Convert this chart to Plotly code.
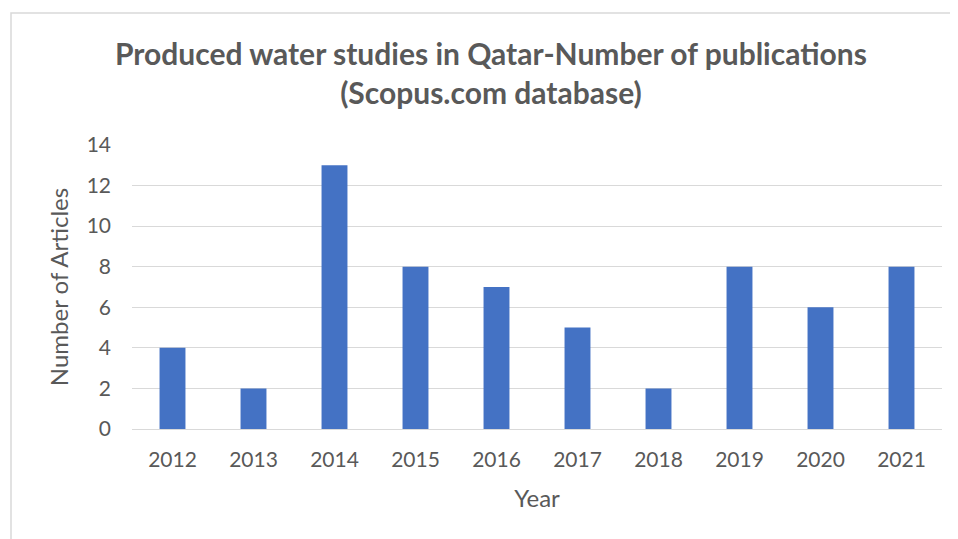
import plotly.graph_objects as go

years = ["2012", "2013", "2014", "2015", "2016", "2017", "2018", "2019", "2020", "2021"]
articles = [4, 2, 13, 8, 7, 5, 2, 8, 6, 8]
y_ticks = [0, 2, 4, 6, 8, 10, 12, 14]

OFF = 8  # page body margin
W, H = 958, 539
L, R, T, B = 132 - OFF, 16 + OFF, 145 - OFF, 110 + OFF
pw, ph = W - L - R, H - T - B

def px_x(x):
    return (x - OFF - L) / pw

def px_y(y):
    return 1 - (y - OFF - T) / ph

gray = "#595959"
font = "Lato"

fig = go.Figure(go.Bar(x=years, y=articles, marker=dict(color="#4472C4", line=dict(width=0)), width=0.32))

fig.update_layout(
    width=W, height=H,
    margin=dict(l=L, r=R, t=T, b=B),
    paper_bgcolor="white", plot_bgcolor="white",
    showlegend=False,
    font=dict(family=font, color=gray, size=21),
    xaxis=dict(showgrid=False, showline=True, linecolor="#d9d9d9", linewidth=1,
               ticks="", tickfont=dict(size=21, color=gray), ticklabelstandoff=12,
               title=dict(text="Year", font=dict(size=24, color=gray), standoff=19)),
    yaxis=dict(range=[0, 14], tickvals=y_ticks, showgrid=True, gridcolor="#d9d9d9", gridwidth=1,
               zeroline=False, showline=False, ticks="", tickfont=dict(size=21, color=gray),
               ticklabelstandoff=20,
               title=dict(text="Number of Articles", font=dict(size=24, color=gray), standoff=11)),
    shapes=[dict(type="rect", xref="paper", yref="paper",
                 x0=px_x(11), x1=px_x(1000), y0=px_y(600), y1=px_y(13),
                 line=dict(color="#d9d9d9", width=1.5), fillcolor="rgba(0,0,0,0)", layer="below")],
    annotations=[dict(text="<b>Produced water studies in Qatar-Number of publications<br>(Scopus.com database)</b>",
                      xref="paper", yref="paper", x=px_x(491), y=px_y(73), xanchor="center", yanchor="middle",
                      showarrow=False, font=dict(size=30, color=gray, family=font))],
)

fig.write_html("out.html")
